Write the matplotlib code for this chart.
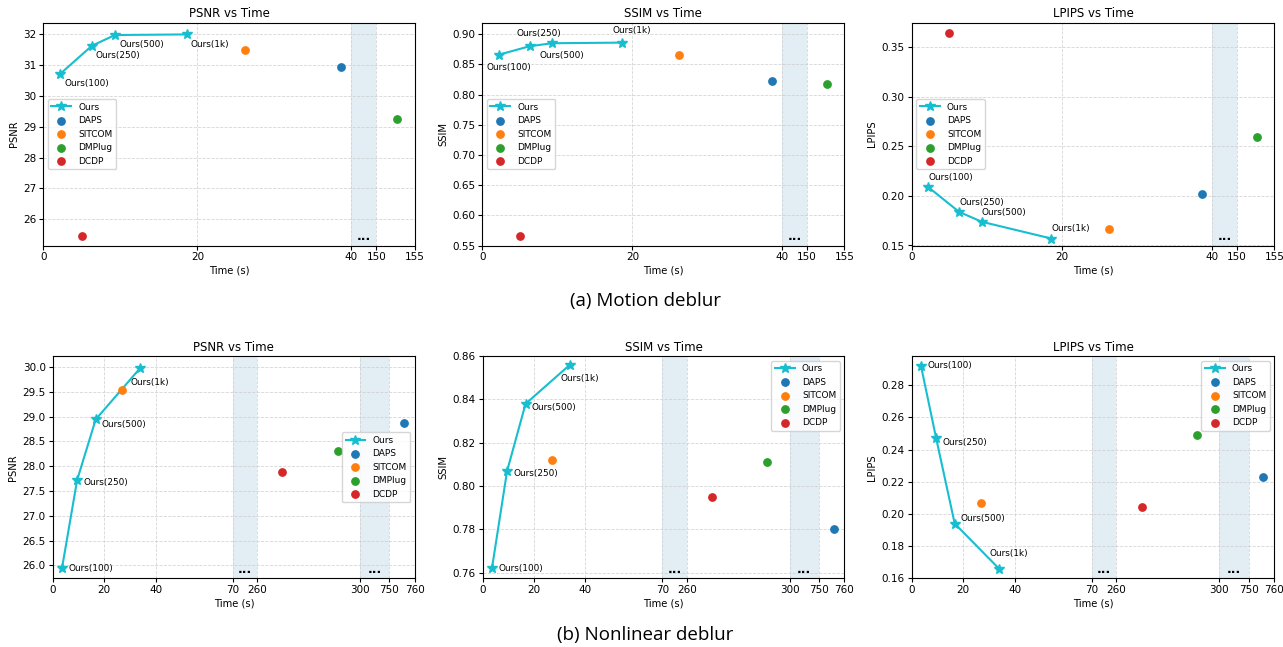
import numpy as np
import matplotlib
matplotlib.use('Agg')
from matplotlib import pyplot as plt
from matplotlib.ticker import MultipleLocator

# ---- data ----
methods = ['DAPS', 'SITCOM', 'DMPlug', 'DCDP']
colors = ['tab:blue', 'tab:orange', 'tab:green', 'tab:red']
ours_labels = ['Ours(100)', 'Ours(250)', 'Ours(500)', 'Ours(1k)']

# (a) motion deblur
a_ours_t = [2.2, 6.3, 9.3, 18.6]
a_ours_psnr = [30.72, 31.63, 31.98, 32.00]
a_ours_ssim = [0.866, 0.880, 0.885, 0.886]
a_ours_lpips = [0.209, 0.184, 0.174, 0.157]
a_t = [38.6, 26.2, 152.7, 5.0]
a_psnr = [30.95, 31.50, 29.27, 25.47]
a_ssim = [0.823, 0.866, 0.818, 0.566]
a_lpips = [0.202, 0.167, 0.260, 0.365]
a_xticks = [0, 20, 40, 150, 155]

# (b) nonlinear deblur
b_ours_t = [3.6, 9.5, 16.7, 33.9]
b_ours_psnr = [25.94, 27.72, 28.94, 29.97]
b_ours_ssim = [0.762, 0.807, 0.838, 0.856]
b_ours_lpips = [0.292, 0.247, 0.194, 0.166]
b_t = [755.8, 27.1, 291.2, 269.8]
b_psnr = [28.87, 29.53, 28.30, 27.88]
b_ssim = [0.780, 0.812, 0.811, 0.795]
b_lpips = [0.223, 0.207, 0.249, 0.204]
b_xticks = [0, 20, 40, 70, 260, 300, 750, 760]

# broken axis: real time -> compressed position
a_real = [0, 40, 150, 155]
a_pos = [0, 40, 43.25, 48.25]
a_gaps = [(40, 150)]
b_real = [0, 70, 260, 300, 750, 760]
b_pos = [0, 70, 79.5, 119.5, 130.8, 140.8]
b_gaps = [(70, 260), (300, 750)]


def make_scale(real, pos):
    real = np.array(real, float)
    pos = np.array(pos, float)

    def fwd(x):
        x = np.asarray(x, float)
        y = np.interp(x, real, pos)
        y = np.where(x < real[0], pos[0] + (x - real[0]), y)
        y = np.where(x > real[-1], pos[-1] + (x - real[-1]), y)
        return y

    def inv(y):
        y = np.asarray(y, float)
        x = np.interp(y, pos, real)
        x = np.where(y < pos[0], real[0] + (y - pos[0]), x)
        x = np.where(y > pos[-1], real[-1] + (y - pos[-1]), x)
        return x
    return fwd, inv


W, H = 1283, 647
fig = plt.figure(figsize=(W / 100, H / 100), dpi=100)


def px_axes(x0, y0, x1, y1):
    return fig.add_axes([x0 / W, 1 - y1 / H, (x1 - x0) / W, (y1 - y0) / H])


FS = 6.4


def panel(rect, title, ylabel, ours_t, ours_v, t, v, real, pos, gaps, xticks,
          ylim, ystep, offsets, legloc):
    ax = px_axes(*rect)
    fwd, inv = make_scale(real, pos)
    ax.set_xscale('function', functions=(fwd, inv))
    ax.set_xlim(real[0], real[-1])
    ax.set_ylim(*ylim)
    ax.yaxis.set_major_locator(MultipleLocator(ystep))
    for g0, g1 in gaps:
        ax.axvspan(g0, g1, color='#d6e6f0', alpha=0.7, lw=0, zorder=0)
        mid = inv((fwd(g0) + fwd(g1)) / 2)
        ax.text(mid, 0.01, '...', transform=ax.get_xaxis_transform(),
                ha='center', va='bottom', fontsize=9, fontweight='bold')
    ax.plot(ours_t, ours_v, '-*', color='#17becf', lw=1.5, ms=7, label='Ours', zorder=3)
    for m, c, tt, vv in zip(methods, colors, t, v):
        ax.scatter(tt, vv, s=28, color=c, label=m, zorder=3)
    for lab, x, y, (dx, dy, ha) in zip(ours_labels, ours_t, ours_v, offsets):
        ax.annotate(lab, (x, y), xytext=(dx, dy), textcoords='offset points',
                    ha=ha, va='center', fontsize=FS)
    ax.set_xticks(xticks)
    ax.set_xticklabels([str(x) for x in xticks])
    ax.minorticks_off()
    ax.grid(True, linestyle='--', color='#cccccc', lw=0.6, alpha=0.8)
    ax.set_axisbelow(True)
    ax.tick_params(labelsize=7.5, length=3, width=0.8, pad=2)
    ax.set_title(title, fontsize=8.5, pad=4)
    ax.set_xlabel('Time (s)', fontsize=7.2, labelpad=2)
    ax.set_ylabel(ylabel, fontsize=7.2, labelpad=3)
    ax.legend(loc=legloc, fontsize=6.5, framealpha=0.8, borderpad=0.4,
              labelspacing=0.5, handlelength=2.2)
    return ax


a_psnr_off = [(3, -7, 'left')] * 4
a_ssim_off = [(7, -9, 'center'), (7, 9, 'center'), (7, -9, 'center'), (7, 9, 'center')]
a_lpips_off = [(0, 7, 'left')] * 4
b_psnr_off = [(5, 0, 'left'), (4.5, -2, 'left'), (4.5, -3.5, 'left'), (-7, -10, 'left')]
b_ssim_off = [(5, 0, 'left'), (4.5, -2, 'left'), (4.5, -3, 'left'), (-7, -10, 'left')]
b_lpips_off = [(5, 0, 'left'), (4.5, -3, 'left'), (4.5, 3.5, 'left'), (-6.5, 11, 'left')]

top = (22.7, 245.5)
bot = (356.2, 578.3)
panel((43.3, top[0], 415, top[1]), 'PSNR vs Time', 'PSNR', a_ours_t, a_ours_psnr,
      a_t, a_psnr, a_real, a_pos, a_gaps, a_xticks, (25.15, 32.38), 1, a_psnr_off, 'center left')
panel((482.3, top[0], 844.3, top[1]), 'SSIM vs Time', 'SSIM', a_ours_t, a_ours_ssim,
      a_t, a_ssim, a_real, a_pos, a_gaps, a_xticks, (0.55, 0.919), 0.05, a_ssim_off, 'center left')
panel((911.7, top[0], 1274.3, top[1]), 'LPIPS vs Time', 'LPIPS', a_ours_t, a_ours_lpips,
      a_t, a_lpips, a_real, a_pos, a_gaps, a_xticks, (0.15, 0.375), 0.05, a_lpips_off, 'center left')

panel((52.7, bot[0], 415, bot[1]), 'PSNR vs Time', 'PSNR', b_ours_t, b_ours_psnr,
      b_t, b_psnr, b_real, b_pos, b_gaps, b_xticks, (25.74, 30.215), 0.5, b_psnr_off, 'center right')
panel((482.7, bot[0], 844.3, bot[1]), 'SSIM vs Time', 'SSIM', b_ours_t, b_ours_ssim,
      b_t, b_ssim, b_real, b_pos, b_gaps, b_xticks, (0.7574, 0.86), 0.02, b_ssim_off, 'upper right')
panel((911.7, bot[0], 1274.3, bot[1]), 'LPIPS vs Time', 'LPIPS', b_ours_t, b_ours_lpips,
      b_t, b_lpips, b_real, b_pos, b_gaps, b_xticks, (0.16, 0.298), 0.02, b_lpips_off, 'upper right')

fig.text(645 / W, 1 - 301 / H, '(a) Motion deblur', ha='center', va='center',
         fontsize=13.5, family=['Open Sans', 'DejaVu Sans'])
fig.text(645 / W, 1 - 635 / H, '(b) Nonlinear deblur', ha='center', va='center',
         fontsize=13.5, family=['Open Sans', 'DejaVu Sans'])

fig.savefig('out.png', dpi=100)
